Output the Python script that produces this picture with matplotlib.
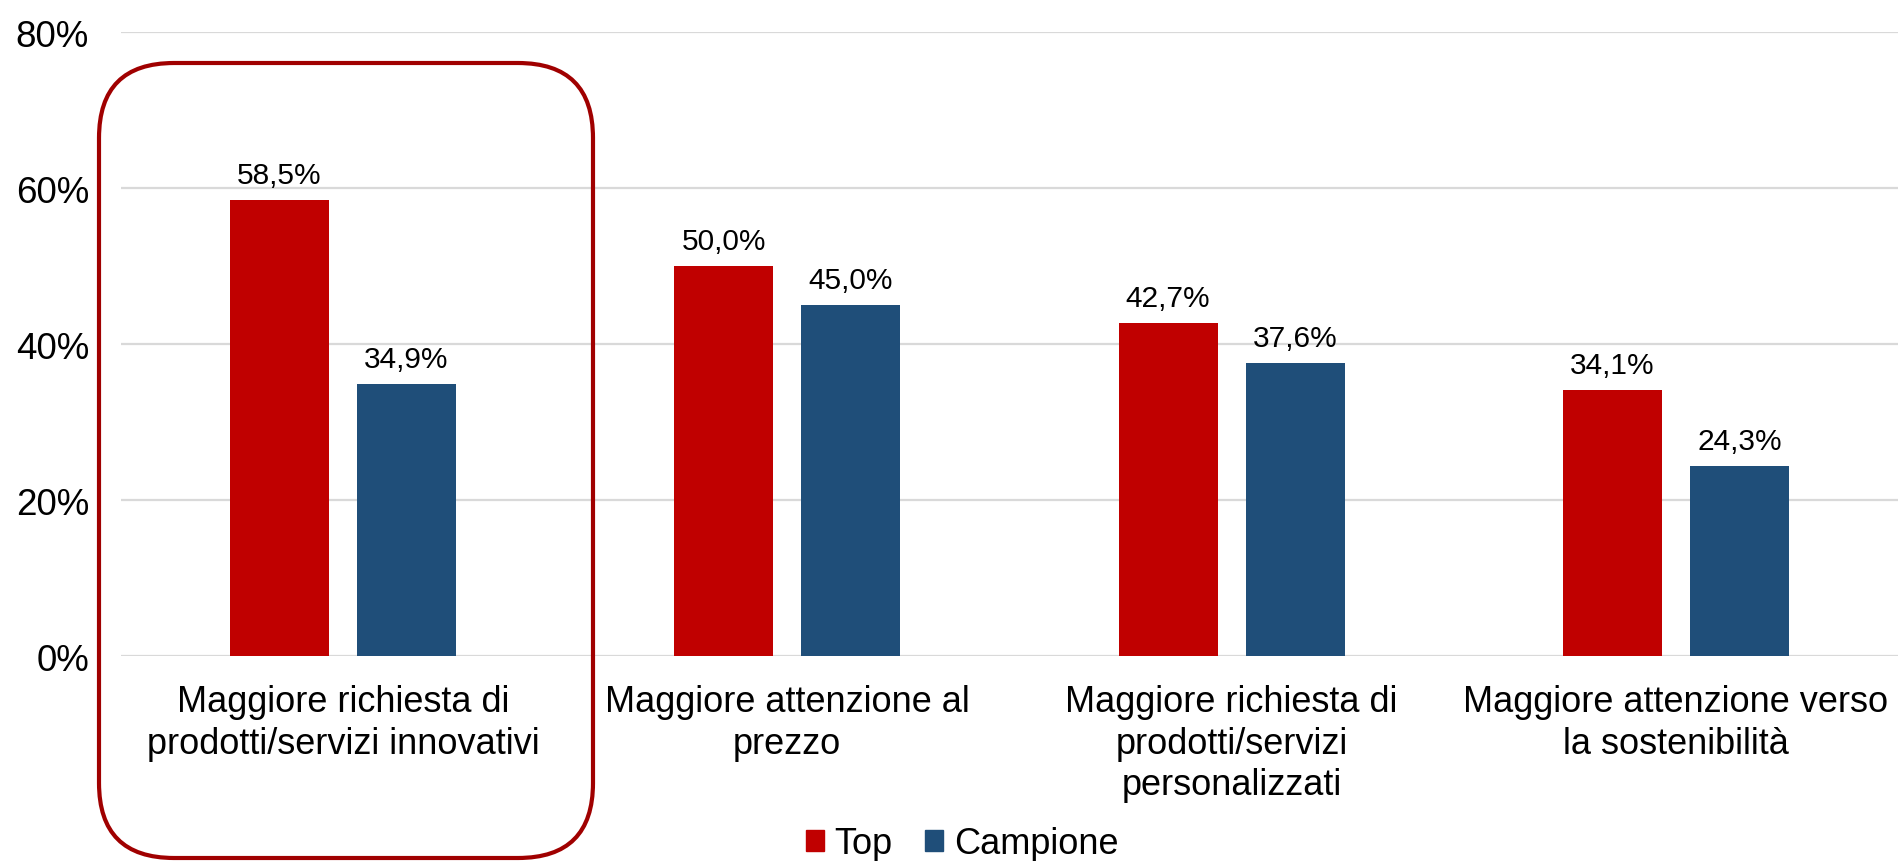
import matplotlib
matplotlib.use("Agg")
import numpy as np
import matplotlib.pyplot as plt
from matplotlib.patches import FancyBboxPatch, Patch

categories = [
    "Maggiore richiesta di\nprodotti/servizi innovativi",
    "Maggiore attenzione al\nprezzo",
    "Maggiore richiesta di\nprodotti/servizi\npersonalizzati",
    "Maggiore attenzione verso\nla sostenibilità",
]
top = [58.5, 50.0, 42.7, 34.1]
campione = [34.9, 45.0, 37.6, 24.3]
yticks = [0, 20, 40, 60, 80]

RED = "#C00000"
BLUE = "#1F4E79"
BOX = "#A00000"
GRID = "#D9D9D9"

plt.rcParams["font.family"] = ["Liberation Sans", "DejaVu Sans"]

fig = plt.figure(figsize=(18.98, 8.62), dpi=100)
ax = fig.add_axes([0.0637, 0.2378, 0.9363, 0.7239])

x = np.arange(len(categories))
w = 0.223
off = 0.143
b1 = ax.bar(x - off, top, w, color=RED, label="Top")
b2 = ax.bar(x + off, campione, w, color=BLUE, label="Campione")

for bars, vals in ((b1, top), (b2, campione)):
    labels = [f"{v:.1f}%".replace(".", ",") for v in vals]
    ax.bar_label(bars, labels=labels, padding=8, fontsize=21.5)

ax.set_xlim(-0.5, len(categories) - 0.5)
ax.set_ylim(0, 80)
ax.set_yticks(yticks)
ax.set_yticklabels([f"{t}%" for t in yticks], fontsize=26.5)
ax.set_xticks(x)
ax.set_xticklabels(categories, fontsize=26, linespacing=1.25)
ax.tick_params(axis="both", length=0)
ax.tick_params(axis="y", pad=23)
ax.tick_params(axis="x", pad=20)
ax.yaxis.grid(True, color=GRID, linewidth=1.6)
ax.set_axisbelow(True)
for s in ax.spines.values():
    s.set_visible(False)

# rounded highlight box around the first category
box = FancyBboxPatch((0.99, 0.03), 4.94, 7.95,
                     boxstyle="round,pad=0,rounding_size=0.75",
                     transform=fig.dpi_scale_trans, fill=False,
                     edgecolor=BOX, linewidth=3, clip_on=False)
fig.patches.append(box)

handles = [Patch(color=RED, label="Top"), Patch(color=BLUE, label="Campione")]
fig.legend(handles=handles, loc="center", bbox_to_anchor=(0.507, 0.02),
           ncol=2, frameon=False, fontsize=26, handlelength=0.5,
           handleheight=0.5, handletextpad=0.3, columnspacing=0.9)

fig.savefig("out.png", dpi=100)
